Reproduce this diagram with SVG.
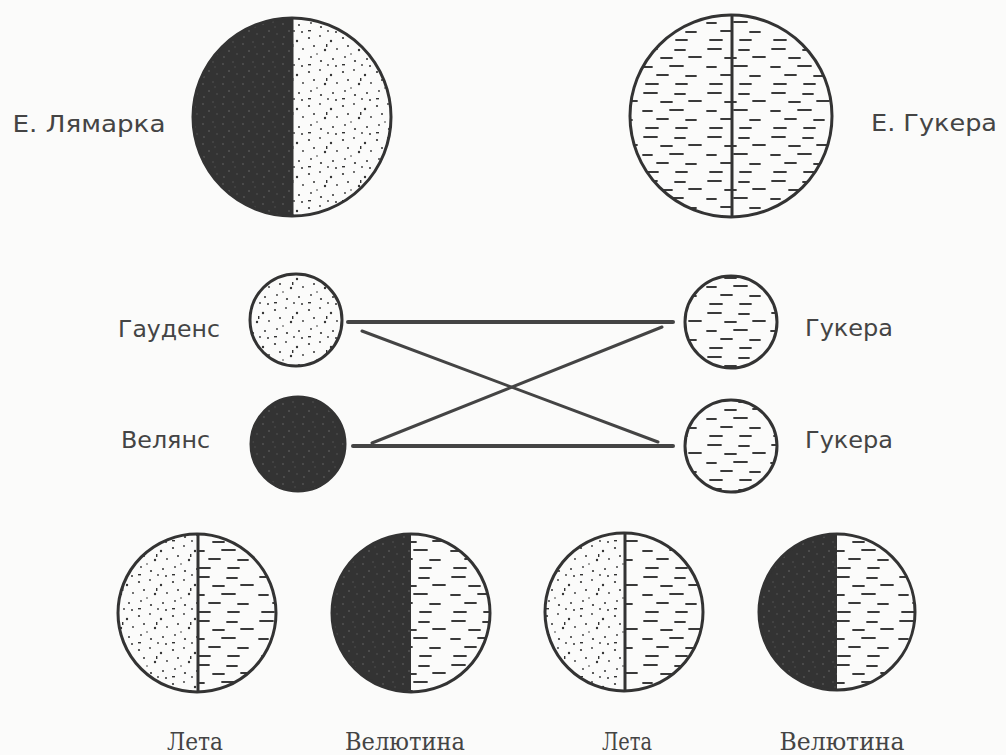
<svg xmlns="http://www.w3.org/2000/svg" width="1006" height="755" viewBox="0 0 1006 755">
<style>
.bg{fill:#fbfbfa}
.ring{fill:none;stroke:#333;stroke-width:3}
.div{stroke:#333;stroke-width:3}
.dots{fill:url(#pDots)}
.dash{fill:url(#pDash)}
.dark{fill:url(#pDark)}
.lbl{font-family:"DejaVu Sans","Liberation Sans",sans-serif;font-size:23px;fill:#444;text-anchor:middle}
.lblS{font-family:"DejaVu Serif","Liberation Serif",serif;font-size:24px;fill:#444;text-anchor:middle}
.con{stroke:#444;stroke-linecap:round;fill:none}
</style>
<defs>
<pattern id="pDots" width="34" height="34" patternUnits="userSpaceOnUse">
<rect width="34" height="34" fill="#fbfbfa"/>
<g fill="#333">
<circle cx="3" cy="4" r="1.1"/><circle cx="14" cy="2" r="0.9"/><circle cx="25" cy="7" r="1.2"/>
<circle cx="31" cy="15" r="0.9"/><circle cx="8" cy="12" r="1"/><circle cx="19" cy="16" r="1.2"/>
<circle cx="5" cy="23" r="0.9"/><circle cx="15" cy="27" r="1.1"/><circle cx="27" cy="25" r="1"/>
<circle cx="22" cy="31" r="0.9"/><circle cx="11" cy="20" r="0.8"/><circle cx="30" cy="32" r="1"/>
<rect x="20" y="10" width="1.4" height="3"/><rect x="2" y="30" width="3" height="1.4"/>
</g>
</pattern>
<pattern id="pDash" width="64" height="44" patternUnits="userSpaceOnUse">
<rect width="64" height="44" fill="#fbfbfa"/>
<g stroke="#3a3a3a" stroke-width="1.8" stroke-linecap="round">
<line x1="4" y1="5" x2="17" y2="5"/><line x1="35" y1="6" x2="45" y2="6"/>
<line x1="21" y1="14" x2="32" y2="14"/><line x1="49" y1="13" x2="61" y2="13"/>
<line x1="3" y1="23" x2="12" y2="23"/><line x1="30" y1="22" x2="43" y2="22"/>
<line x1="17" y1="31" x2="28" y2="31"/><line x1="46" y1="32" x2="56" y2="32"/>
<line x1="6" y1="40" x2="18" y2="40"/><line x1="36" y1="40" x2="47" y2="40"/>
</g>
</pattern>
<pattern id="pDark" width="20" height="20" patternUnits="userSpaceOnUse">
<rect width="20" height="20" fill="#333"/>
<g fill="#555">
<circle cx="3" cy="4" r="0.9"/><circle cx="13" cy="2" r="0.8"/><circle cx="9" cy="11" r="1"/>
<circle cx="17" cy="14" r="0.8"/><circle cx="4" cy="17" r="0.9"/><circle cx="15" cy="7" r="0.7"/>
</g>
</pattern>
</defs>
<rect class="bg" width="1006" height="755"/>

<g id="connectors">
<line class="con" stroke-width="4" x1="348" y1="322" x2="673" y2="322"/>
<line class="con" stroke-width="3" x1="362" y1="331" x2="658" y2="442"/>
<line class="con" stroke-width="3" x1="372" y1="443" x2="662" y2="327"/>
<line class="con" stroke-width="4" x1="353" y1="446" x2="673" y2="446"/>
</g>

<g id="lamarck">
<path class="dark" d="M292,18 A99,99 0 0 0 292,216 Z"/>
<path class="dots" d="M292,18 A99,99 0 0 1 292,216 Z"/>
<line class="div" x1="292" y1="18" x2="292" y2="216"/>
<circle class="ring" cx="292" cy="117" r="99"/>
<text class="lbl" x="89" y="132" textLength="153" lengthAdjust="spacingAndGlyphs">Е.  Лямарка</text>
</g>

<g id="hooker">
<circle class="dash" cx="731" cy="116" r="101"/>
<line class="div" x1="732" y1="15" x2="732" y2="217"/>
<circle class="ring" cx="731" cy="116" r="101"/>
<text class="lbl" x="934" y="131" textLength="126" lengthAdjust="spacingAndGlyphs">Е. Гукера</text>
</g>

<g id="gaudens">
<circle class="dots" cx="296" cy="320" r="46"/>
<circle class="ring" cx="296" cy="320" r="46"/>
<text class="lbl" x="169" y="337" textLength="102" lengthAdjust="spacingAndGlyphs">Гауденс</text>
</g>

<g id="velans">
<circle class="dark" cx="298" cy="444" r="47"/>
<circle class="ring" cx="298" cy="444" r="47" stroke="#2e2e2e"/>
<text class="lbl" x="165.5" y="448" textLength="89" lengthAdjust="spacingAndGlyphs">Велянс</text>
</g>

<g id="hooker1">
<circle class="dash" cx="731" cy="322" r="46"/>
<circle class="ring" cx="731" cy="322" r="46"/>
<text class="lbl" x="849" y="336" textLength="88" lengthAdjust="spacingAndGlyphs">Гукера</text>
</g>

<g id="hooker2">
<circle class="dash" cx="731" cy="446" r="46"/>
<circle class="ring" cx="731" cy="446" r="46"/>
<text class="lbl" x="849" y="448" textLength="88" lengthAdjust="spacingAndGlyphs">Гукера</text>
</g>

<g id="leta1">
<path class="dots" d="M197,534 A79,79 0 0 0 197,692 Z"/>
<path class="dash" d="M197,534 A79,79 0 0 1 197,692 Z"/>
<line class="div" x1="198" y1="534" x2="198" y2="692"/>
<circle class="ring" cx="197" cy="613" r="79"/>
<text class="lblS" x="195" y="750" textLength="56" lengthAdjust="spacingAndGlyphs">Лета</text>
</g>

<g id="velutina1">
<path class="dark" d="M411,534 A79,79 0 0 0 411,692 Z"/>
<path class="dash" d="M411,534 A79,79 0 0 1 411,692 Z"/>
<circle class="ring" cx="411" cy="613" r="79"/>
<text class="lblS" x="405" y="750" textLength="120" lengthAdjust="spacingAndGlyphs">Велютина</text>
</g>

<g id="leta2">
<path class="dots" d="M624,533 A79,79 0 0 0 624,691 Z"/>
<path class="dash" d="M624,533 A79,79 0 0 1 624,691 Z"/>
<line class="div" x1="625" y1="533" x2="625" y2="691"/>
<circle class="ring" cx="624" cy="612" r="79"/>
<text class="lblS" x="627" y="750" textLength="50" lengthAdjust="spacingAndGlyphs">Лета</text>
</g>

<g id="velutina2">
<path class="dark" d="M837,534 A78,78 0 0 0 837,690 Z"/>
<path class="dash" d="M837,534 A78,78 0 0 1 837,690 Z"/>
<circle class="ring" cx="837" cy="612" r="78"/>
<text class="lblS" x="842" y="750" textLength="125" lengthAdjust="spacingAndGlyphs">Велютина</text>
</g>
</svg>
